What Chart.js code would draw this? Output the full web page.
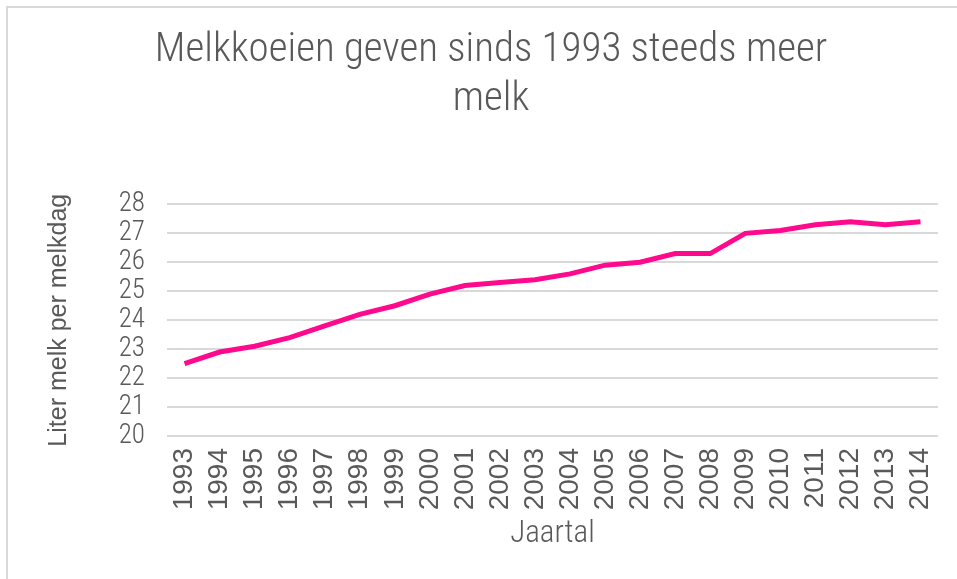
<!DOCTYPE html>
<html>
<head>
<meta charset="utf-8">
<script src="https://cdn.jsdelivr.net/npm/chart.js@4"></script>
<style>
  html, body { margin: 0; padding: 0; background: #fff; }
  #wrap { position: relative; width: 957px; height: 579px; overflow: hidden; }
  #frame { position: absolute; left: 6px; top: 6px; width: 960px; height: 600px; border: 2px solid #d9d9d9; box-sizing: border-box; }
  #myChart { position: absolute; left: 0; top: 0; }
</style>
</head>
<body>
<div id="wrap">
  <div id="frame"></div>
  <canvas id="myChart" width="957" height="579"></canvas>
</div>
<script>
// jaren en liter melk per koe per melkdag
const years = ['1993', '1994', '1995', '1996', '1997', '1998', '1999', '2000', '2001', '2002', '2003',
  '2004', '2005', '2006', '2007', '2008', '2009', '2010', '2011', '2012', '2013', '2014'];
const litersPerDay = [22.5, 22.9, 23.1, 23.4, 23.8, 24.2, 24.5, 24.9, 25.2, 25.3, 25.4,
  25.6, 25.9, 26.0, 26.3, 26.3, 27.0, 27.1, 27.3, 27.4, 27.3, 27.4];
const yMin = 20;
const yMax = 28;
const titleLines = ['Melkkoeien geven sinds 1993 steeds meer', 'melk'];

const grey = '#595959';
const narrow = '"Liberation Sans Narrow", "Roboto Condensed", Roboto, sans-serif';

window.addEventListener('load', function () {
  const ctx = document.getElementById('myChart');
  const myChart = new Chart(ctx, {
    type: 'line',
    data: {
      labels: years,
      datasets: [{
        label: 'Liter melk per melkdag',
        data: litersPerDay,
        borderColor: '#ff0a8c',
        borderWidth: 5,
        pointRadius: 0,
        tension: 0,
        fill: false
      }]
    },
    options: {
      responsive: false,
      animation: false,
      layout: { padding: { left: 44, right: 19, top: 0, bottom: 0 } },
      plugins: {
        legend: { display: false },
        tooltip: { enabled: false },
        title: {
          display: true,
          text: titleLines,
          color: grey,
          font: { family: narrow, size: 41, weight: 300, lineHeight: 1.2 },
          padding: { top: 26, bottom: 80 }
        }
      },
      scales: {
        x: {
          offset: true,
          grid: { display: false, drawTicks: false },
          border: { display: false },
          ticks: {
            color: grey,
            minRotation: 90,
            maxRotation: 90,
            autoSkip: false,
            padding: 12,
            font: { family: '"Liberation Sans", Arial, sans-serif', size: 28 }
          },
          title: {
            display: true,
            text: 'Jaartal',
            color: grey,
            font: { family: narrow, size: 31, weight: 300 },
            padding: { top: 4, bottom: 26 }
          },
          afterFit: function (scale) {
            scale.height = 143;
            scale.paddingLeft = 0;
            scale.paddingRight = 0;
          }
        },
        y: {
          min: yMin,
          max: yMax,
          grid: { color: '#d9d9d9', lineWidth: 2, drawTicks: false },
          border: { display: false },
          ticks: {
            stepSize: 1,
            autoSkip: false,
            color: grey,
            padding: 22,
            font: { family: narrow, size: 27, weight: 300 }
          },
          title: {
            display: true,
            text: 'Liter melk per melkdag',
            color: grey,
            font: { family: '"Liberation Sans", Arial, sans-serif', size: 25 },
            padding: { top: 0, bottom: 10 }
          },
          afterFit: function (scale) { scale.width = 123; }
        }
      }
    }
  });
});
</script>
</body>
</html>
